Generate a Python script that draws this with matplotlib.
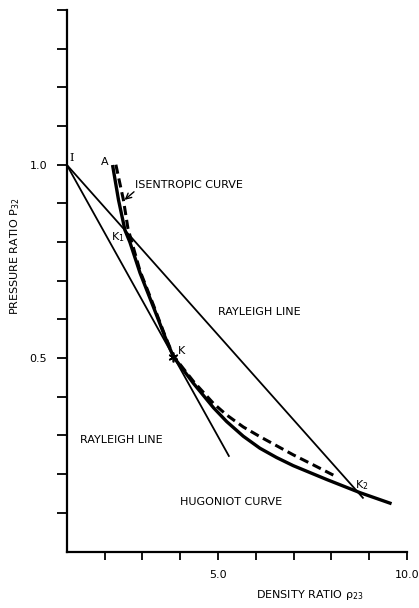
import matplotlib
matplotlib.use("Agg")
import matplotlib.pyplot as plt

plt.rcParams['font.family'] = ['DejaVu Sans']
plt.rcParams['mathtext.default'] = 'regular'

# Hugoniot curve (density ratio, pressure ratio)
hug_x = [2.22, 2.37, 2.54, 2.67, 2.94, 3.29, 3.60, 3.82, 4.35, 4.88, 5.23,
         5.67, 6.11, 6.55, 6.99, 7.88, 8.76, 9.55]
hug_y = [0.995, 0.909, 0.831, 0.800, 0.720, 0.633, 0.555, 0.504, 0.435, 0.372,
         0.336, 0.298, 0.267, 0.243, 0.222, 0.186, 0.152, 0.125]

# Isentropic curve (dashed)
isen_x = [2.30, 2.50, 2.62, 2.94, 3.29, 3.60, 3.82, 4.35, 4.88, 5.23, 5.67,
          6.11, 6.99, 7.52, 8.14]
isen_y = [1.000, 0.909, 0.835, 0.725, 0.638, 0.558, 0.506, 0.440, 0.383, 0.353,
          0.322, 0.297, 0.250, 0.224, 0.193]

# Rayleigh lines from the initial state I
ray_low_x = [1.0, 5.30]
ray_low_y = [1.0, 0.245]
ray_up_x = [1.0, 8.85]
ray_up_y = [1.0, 0.137]

x_ticks = [2, 3, 4, 5, 6, 7, 8, 9, 10]
x_ticklabels = ['', '', '', '5.0', '', '', '', '', '10.0']
y_ticks = [0.1, 0.2, 0.3, 0.4, 0.5, 0.6, 0.7, 0.8, 0.9, 1.0, 1.1, 1.2, 1.3, 1.4]
y_ticklabels = ['', '', '', '', '0.5', '', '', '', '', '1.0', '', '', '', '']

W, H = 419, 608
fig = plt.figure(figsize=(W / 100, H / 100), dpi=100)
ax = fig.add_axes([66.7 / W, 1 - 551.5 / H, (407 - 66.7) / W, (551.5 - 10) / H])
ax.set_xlim(1, 10)
ax.set_ylim(0, 1.4)

for s in ('top', 'right'):
    ax.spines[s].set_visible(False)
for s in ('left', 'bottom'):
    ax.spines[s].set_linewidth(1.6)

ax.set_xticks(x_ticks)
ax.set_xticklabels(x_ticklabels)
ax.set_yticks(y_ticks)
ax.set_yticklabels(y_ticklabels)
ax.tick_params(axis='x', direction='out', length=6, width=1.3, pad=7, labelsize=8)
ax.tick_params(axis='y', direction='out', length=7, width=1.3, pad=7, labelsize=8)

lw_thin = 1.3
ax.plot(ray_low_x, ray_low_y, color='black', lw=lw_thin, solid_capstyle='butt')
ax.plot(ray_up_x, ray_up_y, color='black', lw=lw_thin, solid_capstyle='butt')
ax.plot(hug_x, hug_y, color='black', lw=2.4, solid_joinstyle='round')
ax.plot(isen_x, isen_y, color='black', lw=2.2, dashes=(3, 1.6))

# state K marked with a small asterisk
ax.plot([3.82], [0.504], marker=(6, 2, 0), color='black', ms=7, mew=1.2)

txt = dict(color='black', fontsize=8)
ax.text(1.07, 1.005, 'I', ha='left', va='bottom', fontsize=8, family='DejaVu Serif')
ax.text(2.01, 1.008, 'A', ha='center', va='center', fontsize=8)
ax.text(2.81, 0.948, 'ISENTROPIC CURVE', ha='left', va='center', **txt)
ax.annotate('', xy=(2.53, 0.909), xytext=(2.78, 0.93),
            arrowprops=dict(arrowstyle='->', color='black', lw=1.0,
                            shrinkA=0, shrinkB=0))
ax.text(2.36, 0.813, 'K$_1$', ha='center', va='center', fontsize=8)
ax.text(5.0, 0.619, 'RAYLEIGH LINE', ha='left', va='center', **txt)
ax.text(1.35, 0.288, 'RAYLEIGH LINE', ha='left', va='center', **txt)
ax.text(4.0, 0.127, 'HUGONIOT CURVE', ha='left', va='center', **txt)
ax.text(3.95, 0.518, 'K', ha='left', va='center', fontsize=8)
ax.text(8.62, 0.171, 'K$_2$', ha='left', va='center', fontsize=8)

fig.text(15 / W, 1 - 256 / H, 'PRESSURE RATIO P$_{32}$', rotation=90,
         ha='center', va='center', fontsize=8)
fig.text(310 / W, 1 - 595 / H, r'DENSITY RATIO $\rho_{23}$',
         ha='center', va='center', fontsize=8)

fig.savefig('out.png', dpi=100)
